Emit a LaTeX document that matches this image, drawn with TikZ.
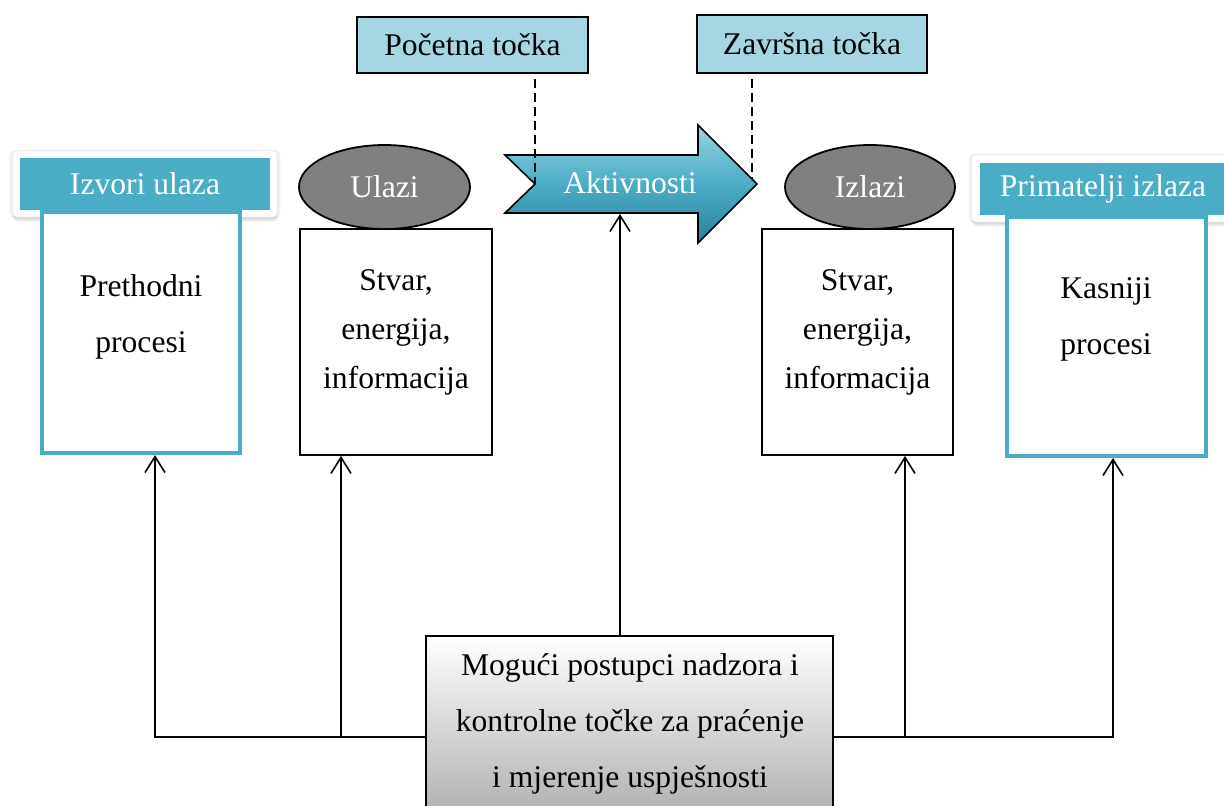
\documentclass[tikz,border=0pt]{standalone}
\usepackage{fontspec}
\setmainfont{Liberation Serif}
\usetikzlibrary{arrows.meta,shadows,shapes.geometric}
\definecolor{tealhd}{RGB}{75,172,198}
\definecolor{lblue}{RGB}{166,214,227}
\definecolor{ellgray}{RGB}{128,128,128}
\definecolor{arrtop}{RGB}{150,212,228}
\definecolor{arrmid}{RGB}{75,172,198}
\definecolor{arrbot}{RGB}{44,128,155}
\begin{document}
\begin{tikzpicture}[x=0.5pt,y=-0.5pt,
  every node/.style={inner sep=0pt},
  fnt/.style={font=\fontsize{15.8}{#1}\selectfont},
  txt/.style={fnt=28, align=center},
  txtb/.style={fnt=24.5, align=center},
  shadowbox/.style={fill=white, draw=black!6, line width=0.3pt, rounded corners=2pt,
    drop shadow={opacity=0.12, shadow xshift=0pt, shadow yshift=0pt, shadow scale=1.025},
    drop shadow={opacity=0.18, shadow xshift=0pt, shadow yshift=-1.2pt},
    drop shadow={opacity=0.15, shadow xshift=0.3pt, shadow yshift=-2.2pt}},
  header/.style={fill=tealhd, text=white, fnt=20},
  procbox/.style={draw=tealhd, line width=2pt, fill=white},
  plainbox/.style={draw=black, line width=0.9pt, fill=white},
  ell/.style={ellipse, draw=black, line width=0.9pt, fill=ellgray, text=white, fnt=20},
  tag/.style={draw=black, line width=0.9pt, fill=lblue, fnt=20},
  conn/.style={line width=0.8pt},
  arr/.style={conn, -{Straight Barb[length=8pt,width=10pt]}},
  dashline/.style={line width=0.8pt, dash pattern=on 4.5pt off 2.5pt}
]
\useasboundingbox (0,0) rectangle (1224,805);

% ---- left: Izvori ulaza
\node[shadowbox, minimum width=132pt, minimum height=33pt] (izsh) at (145,184) {};
\node[header, minimum width=125pt, minimum height=26pt] (izh) at (145,184) {Izvori ulaza};
\node[procbox, minimum width=99pt, minimum height=120.5pt] (prev) at (141,332.5) {};
\node[txt] (prevt) at (141,317) {Prethodni\\procesi};

% ---- Ulazi
\node[plainbox, minimum width=96pt, minimum height=113pt] (inbox) at (396,342) {};
\node[ell, minimum width=85.5pt, minimum height=42pt] (ulazi) at (384.5,187) {Ulazi};
\node[txtb] (inboxt) at (396,332) {Stvar,\\energija,\\informacija};

% ---- Aktivnosti arrow
\path[draw=black, line width=0.8pt, top color=arrtop, bottom color=arrbot, middle color=arrmid]
  (505,155) -- (698,155) -- (698,125) -- (757,184) -- (698,243) -- (698,213)
  -- (505,213) -- (535,184) -- cycle;
\node[text=white, fnt=20] (akt) at (630,183) {Aktivnosti};
\coordinate (notch) at (535,184);
\coordinate (tipz) at (752,180);
\coordinate (aktbot) at (620,214);

% ---- tags
\node[tag, minimum width=115.5pt, minimum height=28pt] (poc) at (472.5,45) {Početna točka};
\node[tag, minimum width=115pt, minimum height=29pt] (zav) at (812,44) {Završna točka};
\draw[dashline] (notch |- poc.south) ++(0,5) -- (notch);
\draw[dashline] (tipz |- zav.south) ++(0,5) -- (tipz);

% ---- Izlazi
\node[plainbox, minimum width=95.5pt, minimum height=113pt] (outbox) at (857.5,342) {};
\node[ell, minimum width=85pt, minimum height=42pt] (izlazi) at (870,187) {Izlazi};
\node[txtb] (outboxt) at (857.5,332) {Stvar,\\energija,\\informacija};

% ---- right: Primatelji izlaza
\node[shadowbox, minimum width=129pt, minimum height=33.5pt] (prsh) at (1101,188.5) {};
\node[header, minimum width=123pt, minimum height=26pt] (prh) at (1103,189) {Primatelji izlaza};
\node[procbox, minimum width=99.5pt, minimum height=119.5pt] (next) at (1106.5,336.5) {};
\node[txt] (nextt) at (1106,319) {Kasniji\\procesi};

% ---- bottom control box
\node[draw=black, line width=0.9pt, top color=white, bottom color=black!30, minimum width=203.5pt, minimum height=87pt] (ctrl) at (629.5,723) {};
\node[txt] (ctrlt) at (630,724) {Mogući postupci nadzora i\\kontrolne točke za praćenje\\i mjerenje uspješnosti};

% ---- connectors
\coordinate (L1) at (155,737);
\coordinate (L2) at (341,737);
\coordinate (R1) at (905,737);
\coordinate (R2) at (1113,737);
\draw[arr] (ctrl.west |- L1) -- (L1) -- (L1 |- prev.south);
\draw[arr] (L2) -- (L2 |- inbox.south);
\draw[arr] (aktbot |- ctrl.north) -- (aktbot);
\draw[arr] (ctrl.east |- R2) -- (R2) -- (R2 |- next.south);
\draw[arr] (R1) -- (R1 |- outbox.south);
\end{tikzpicture}
\end{document}
